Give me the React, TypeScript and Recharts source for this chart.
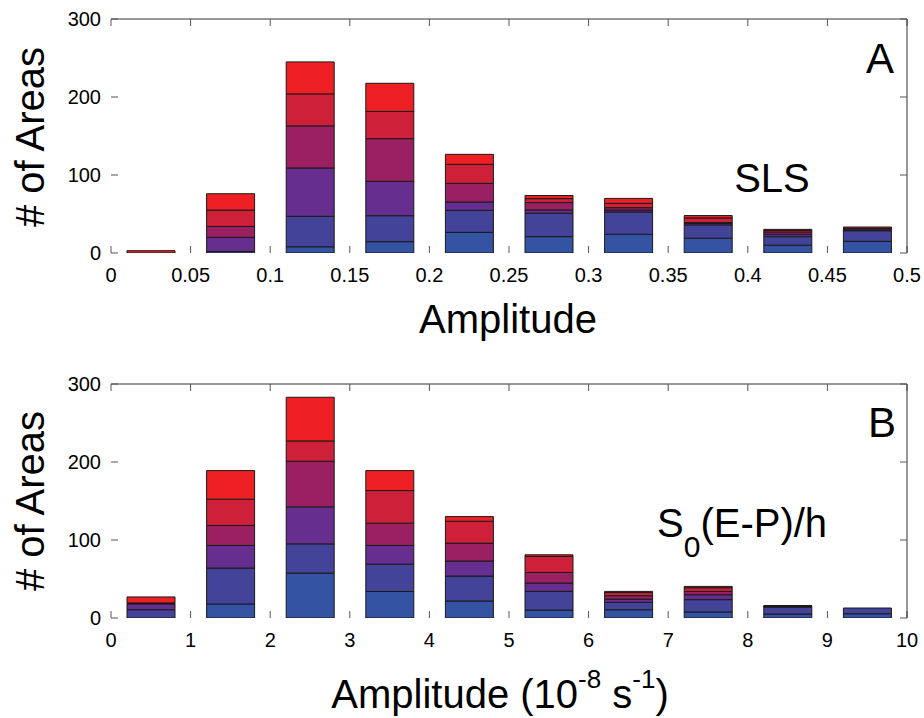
import React from 'react';
import { BarChart, Bar, XAxis, YAxis } from 'recharts';

const FONT = "'Liberation Sans', Arial, Helvetica, sans-serif";

// Stack segment names (bottom to top) and their colours
const segmentKeys = ['blue', 'indigo', 'purple', 'magenta', 'crimson', 'red'];
const segmentColors = ['#3553A3', '#44439A', '#652E8F', '#9A2062', '#CE2038', '#EE2024'];

// Panel A: SLS amplitude histogram
const slsCenters = [0.025, 0.075, 0.125, 0.175, 0.225, 0.275, 0.325, 0.375, 0.425, 0.475];
const slsBlue = [0, 2, 8, 14.5, 26.5, 21, 24, 19, 10, 15];
const slsIndigo = [0, 0, 39, 33.3, 28.2, 30, 28.6, 17, 11, 13.6];
const slsPurple = [0, 18, 62, 44.1, 10.7, 4.2, 2.5, 2, 3, 0.5];
const slsMagenta = [0, 14, 54, 54.7, 23.9, 9.5, 3, 1, 3, 1.5];
const slsCrimson = [0, 21, 41, 35, 24.4, 5, 5.6, 6, 2, 1.2];
const slsRed = [3, 21, 41, 36, 12.8, 4, 6.3, 3, 1.3, 1.5];
const slsTicks = [0, 0.05, 0.1, 0.15, 0.2, 0.25, 0.3, 0.35, 0.4, 0.45, 0.5];

// Panel B: S0(E-P)/h amplitude histogram
const sepCenters = [0.5, 1.5, 2.5, 3.5, 4.5, 5.5, 6.5, 7.5, 8.5, 9.5];
const sepBlue = [0, 18, 57.6, 34, 21.8, 10.2, 10.6, 7.7, 5.1, 5.5];
const sepIndigo = [10.6, 46, 37.4, 35, 32, 23.9, 9.4, 15.8, 9, 7.3];
const sepPurple = [7.5, 29, 47.5, 24, 19.2, 10.7, 4.3, 6.4, 0.5, 0];
const sepMagenta = [0.5, 25.6, 58.5, 28.6, 23, 13.6, 4.3, 4.2, 0.5, 0];
const sepCrimson = [0.7, 33.7, 26, 41.8, 28, 20.6, 4, 4.7, 0.5, 0];
const sepRed = [7.7, 36.7, 56, 25.6, 6, 2, 1.5, 1.7, 0.2, 0];
const sepTicks = [0, 1, 2, 3, 4, 5, 6, 7, 8, 9, 10];

const yTicks = [0, 100, 200, 300];

function buildRows(centers: number[], series: number[][]) {
  return centers.map((c, i) => {
    const row: Record<string, number> = { x: c };
    segmentKeys.forEach((k, j) => {
      row[k] = series[j][i];
    });
    return row;
  });
}

const slsData = buildRows(slsCenters, [slsBlue, slsIndigo, slsPurple, slsMagenta, slsCrimson, slsRed]);
const sepData = buildRows(sepCenters, [sepBlue, sepIndigo, sepPurple, sepMagenta, sepCrimson, sepRed]);

const empty = () => '';

function Panel(props: {
  data: Record<string, number>[];
  xDomain: [number, number];
  xTicks: number[];
  top: number;
  height: number;
  mTop: number;
  mBottom: number;
}) {
  const { data, xDomain, xTicks, top, height, mTop, mBottom } = props;
  const tickStyle = { fill: '#000', fontSize: 20, fontFamily: FONT };
  return (
    <div style={{ position: 'absolute', left: 0, top, width: 924, height }}>
      <BarChart
        width={924}
        height={height}
        data={data}
        margin={{ top: mTop, right: 16, bottom: mBottom, left: 51 }}
        barSize={48}
      >
        <XAxis
          xAxisId="b"
          dataKey="x"
          type="number"
          domain={xDomain}
          ticks={xTicks}
          interval={0}
          allowDataOverflow
          axisLine={false}
          tickSize={-7}
          tickMargin={22}
          tickLine={{ stroke: '#555' }}
          tick={tickStyle}
          height={30}
        />
        <XAxis
          xAxisId="t"
          orientation="top"
          dataKey="x"
          type="number"
          domain={xDomain}
          ticks={xTicks}
          interval={0}
          allowDataOverflow
          axisLine={{ stroke: '#333' }}
          tickSize={-7}
          tickLine={{ stroke: '#555' }}
          tickFormatter={empty}
          height={1}
        />
        <YAxis
          yAxisId="l"
          type="number"
          domain={[0, 300]}
          ticks={yTicks}
          interval={0}
          allowDataOverflow
          axisLine={false}
          tickSize={-7}
          tickMargin={17}
          tickLine={{ stroke: '#555' }}
          tick={tickStyle}
          width={60}
        />
        <YAxis
          yAxisId="r"
          orientation="right"
          type="number"
          domain={[0, 300]}
          ticks={yTicks}
          interval={0}
          allowDataOverflow
          axisLine={{ stroke: '#333' }}
          tickSize={-7}
          tickLine={{ stroke: '#555' }}
          tickFormatter={empty}
          width={1}
        />
        {segmentKeys.map((k, i) => (
          <Bar
            key={k}
            xAxisId="b"
            yAxisId="l"
            dataKey={k}
            stackId="s"
            fill={segmentColors[i]}
            stroke="#1a1a1a"
            strokeWidth={1}
            isAnimationActive={false}
          />
        ))}
      </BarChart>
    </div>
  );
}

export default function App() {
  return (
    <div style={{ position: 'absolute', left: 0, top: 0, width: 924, height: 718, background: '#fff', fontFamily: FONT }}>
      <Panel data={slsData} xDomain={[0, 0.5]} xTicks={slsTicks} top={0} height={360} mTop={18} mBottom={77} />
      <Panel data={sepData} xDomain={[0, 10]} xTicks={sepTicks} top={360} height={358} mTop={23} mBottom={70} />
      <svg
        width={924}
        height={718}
        style={{ position: 'absolute', left: 0, top: 0, pointerEvents: 'none' }}
        fontFamily={FONT}
      >
        <text transform="translate(44,137) rotate(-90)" textAnchor="middle" fontSize={40} fill="#000">
          # of Areas
        </text>
        <text transform="translate(44,501) rotate(-90)" textAnchor="middle" fontSize={40} fill="#000">
          # of Areas
        </text>
        <text x={508} y={333} textAnchor="middle" fontSize={40} fill="#000">
          Amplitude
        </text>
        <text x={500} y={708} textAnchor="middle" fontSize={40} fill="#000">
          Amplitude (10
          <tspan dy={-20} fontSize={26}>-8</tspan>
          <tspan dy={20}> s</tspan>
          <tspan dy={-20} fontSize={26}>-1</tspan>
          <tspan dy={20}>)</tspan>
        </text>
        <text x={880} y={73} textAnchor="middle" fontSize={42} fill="#000">
          A
        </text>
        <text x={882} y={437} textAnchor="middle" fontSize={42} fill="#000">
          B
        </text>
        <text x={772} y={192} textAnchor="middle" fontSize={40} fill="#000">
          SLS
        </text>
        <text x={657} y={537} fontSize={40} fill="#000">
          S
          <tspan dy={20} fontSize={30}>0</tspan>
          <tspan dy={-20}>(E-P)/h</tspan>
        </text>
      </svg>
    </div>
  );
}
